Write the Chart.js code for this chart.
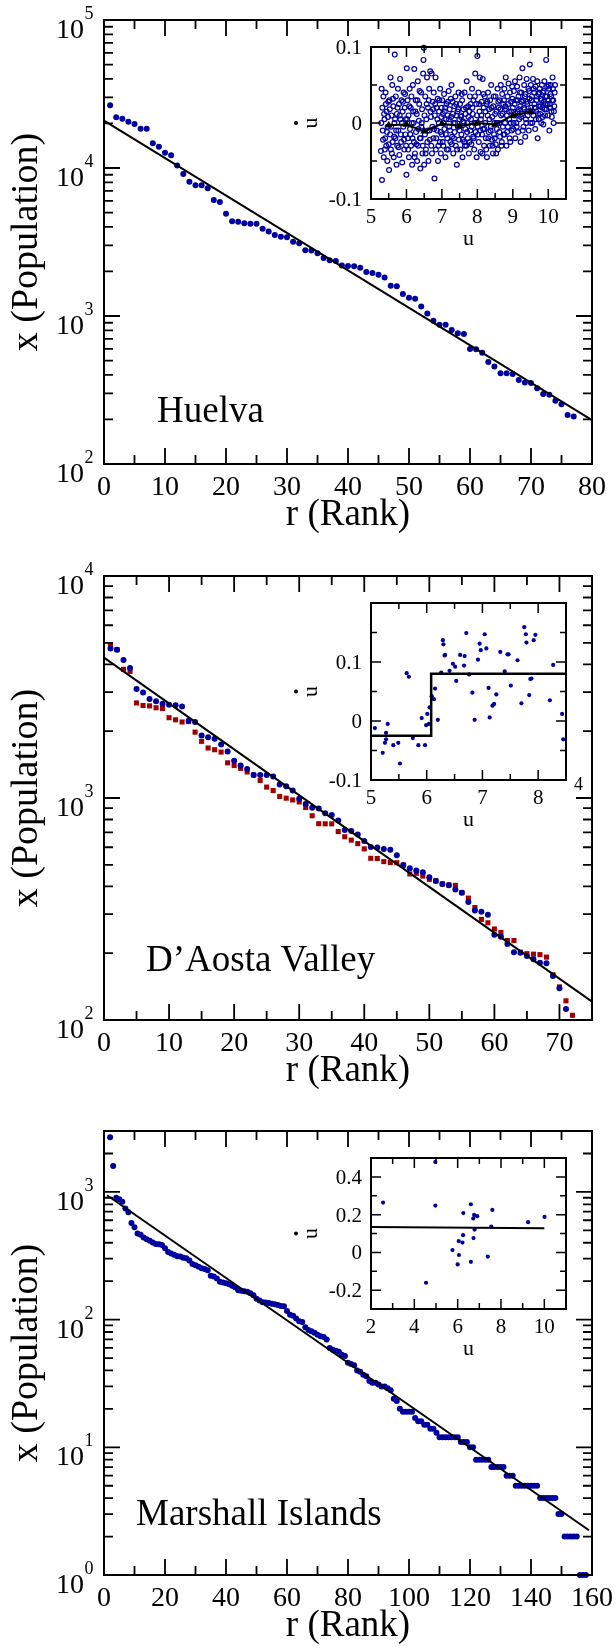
<!DOCTYPE html>
<html>
<head>
<meta charset="utf-8">
<script src="https://cdn.jsdelivr.net/npm/chart.js@4.4.1/dist/chart.umd.min.js"></script>
<style>
html, body { margin: 0; padding: 0; background: #fff; }
body { position: relative; width: 616px; height: 1651px; overflow: hidden; }
canvas { position: absolute; }
#fontprobe { position: absolute; left: -999px; top: 0; font-family: "Liberation Serif"; font-size: 20px; }
</style>
</head>
<body>
<span id="fontprobe">x (Population) 0123456789</span>
<canvas id="main1"></canvas>
<canvas id="inset1"></canvas>
<canvas id="main2"></canvas>
<canvas id="inset2"></canvas>
<canvas id="main3"></canvas>
<canvas id="inset3"></canvas>
<script>
'use strict';

// ---- Huelva (rank 1..77) ----
var huelvaPop = [26500, 22000, 21500, 20500, 19800, 18400, 18400, 14700, 13900, 12700,
    12200, 10400, 9100, 8080, 7640, 7640, 7290, 6080, 5890, 4910,
    4360, 4330, 4230, 4200, 4200, 3890, 3730, 3520, 3430, 3400,
    3180, 3100, 2780, 2770, 2650, 2470, 2380, 2350, 2190, 2180,
    2170, 2120, 1980, 1950, 1900, 1820, 1600, 1590, 1410, 1330,
    1310, 1160, 1040, 930, 873, 873, 803, 764, 755, 598,
    596, 565, 489, 455, 410, 410, 406, 370, 355, 352,
    325, 297, 294, 268, 253, 214, 209];
var huelvaFit = [[0, 20900], [80, 198]];
var huelvaXTicks = [0, 10, 20, 30, 40, 50, 60, 70, 80];
var huelvaYTicks = [100, 1000, 10000, 100000];

// inset 1: growth rate vs u (open circles) and binned mean (triangles)
var huelvaGrowth = [
    [5.28,-0.037],[5.30,0.045],[5.31,-0.075],[5.32,0.02],[5.33,-0.01],[5.35,0.035],[5.36,-0.045],[5.38,0.005],[5.40,-0.02],[5.41,0.04],
    [5.43,-0.03],[5.44,0.015],[5.46,-0.05],[5.47,-0.005],[5.49,0.028],[5.51,-0.062],[5.52,0.03],[5.54,-0.015],[5.55,0.06],[5.56,-0.035],
    [5.58,0.01],[5.60,0.05],[5.61,-0.025],[5.63,0.022],[5.64,-0.045],[5.66,0.0],[5.67,0.09],[5.69,-0.02],[5.70,0.035],[5.72,-0.055],
    [5.73,0.012],[5.74,-0.03],[5.76,0.045],[5.77,-0.01],[5.79,0.025],[5.80,-0.042],[5.82,0.058],[5.83,0.005],[5.85,-0.025],[5.86,0.03],
    [5.88,-0.052],[5.89,0.015],[5.91,-0.005],[5.92,0.04],[5.94,-0.035],[5.95,0.02],[5.97,-0.015],[5.98,0.005],[6.00,-0.068],[6.01,0.072],
    [6.03,0.03],[6.04,-0.02],[6.06,0.01],[6.07,-0.045],[6.09,0.045],[6.10,-0.008],[6.12,0.02],[6.13,-0.03],[6.15,0.0],[6.16,-0.055],
    [6.18,0.05],[6.19,0.015],[6.21,-0.025],[6.22,0.071],[6.24,-0.04],[6.26,0.03],[6.27,-0.012],[6.29,0.012],[6.30,-0.05],[6.32,0.055],
    [6.33,-0.03],[6.35,0.003],[6.36,0.025],[6.38,-0.02],[6.39,-0.06],[6.41,0.04],[6.42,-0.005],[6.44,0.018],[6.45,-0.04],[6.47,0.065],
    [6.48,0.083],[6.49,0.099],[6.50,-0.055],[6.52,-0.015],[6.53,0.035],[6.55,-0.035],[6.56,0.005],[6.58,0.06],[6.59,-0.025],[6.61,0.02],
    [6.62,-0.05],[6.64,0.045],[6.65,-0.01],[6.67,0.068],[6.68,0.015],[6.70,-0.03],[6.71,0.065],[6.73,-0.005],[6.74,0.028],[6.76,-0.02],
    [6.77,0.04],[6.79,-0.073],[6.80,0.01],[6.82,0.06],[6.83,-0.035],[6.85,0.02],[6.86,-0.01],[6.88,0.032],[6.89,-0.05],[6.91,0.0],
    [6.92,0.015],[6.94,-0.025],[6.95,0.045],[6.97,-0.04],[6.98,0.008],[7.00,-0.015],[7.01,0.03],[7.03,0.012],[7.04,-0.03],[7.06,0.038],
    [7.07,-0.008],[7.09,0.02],[7.10,-0.045],[7.12,0.005],[7.13,0.025],[7.15,-0.02],[7.16,0.01],[7.18,-0.035],[7.19,0.042],[7.21,-0.005],
    [7.22,0.018],[7.24,-0.025],[7.26,0.008],[7.27,0.05],[7.29,-0.018],[7.30,0.028],[7.32,-0.04],[7.33,0.0],[7.35,0.022],[7.36,-0.012],
    [7.38,0.035],[7.39,-0.03],[7.41,0.01],[7.42,-0.055],[7.44,0.015],[7.45,-0.005],[7.47,0.04],[7.48,-0.022],[7.49,0.005],[7.51,0.025],
    [7.52,-0.035],[7.54,0.008],[7.55,-0.015],[7.57,0.03],[7.58,-0.045],[7.60,0.002],[7.61,0.018],[7.63,-0.025],[7.64,0.04],[7.66,-0.008],
    [7.67,0.012],[7.69,-0.03],[7.70,0.055],[7.72,0.0],[7.73,-0.02],[7.74,0.022],[7.76,-0.04],[7.77,0.015],[7.79,0.035],[7.80,-0.01],
    [7.82,0.005],[7.83,-0.028],[7.85,0.045],[7.86,0.02],[7.88,-0.018],[7.89,0.03],[7.91,-0.035],[7.92,0.0],[7.94,0.065],[7.95,-0.012],
    [7.97,0.025],[7.98,-0.045],[7.99,0.01],[8.00,0.088],[8.01,-0.005],[8.03,0.04],[8.04,-0.025],[8.06,0.015],[8.07,0.06],[8.09,-0.038],
    [8.10,0.005],[8.12,0.028],[8.13,-0.015],[8.15,0.058],[8.16,-0.008],[8.18,0.02],[8.19,-0.03],[8.21,0.035],[8.22,0.0],[8.24,-0.02],
    [8.26,0.025],[8.27,-0.045],[8.29,0.01],[8.30,0.04],[8.32,-0.012],[8.33,0.018],[8.35,-0.03],[8.36,0.03],[8.38,-0.005],[8.39,0.05],
    [8.41,-0.022],[8.42,0.008],[8.44,-0.04],[8.45,0.022],[8.47,-0.015],[8.48,0.0],[8.51,0.035],[8.52,-0.028],[8.54,0.015],[8.55,-0.008],
    [8.57,0.045],[8.58,-0.035],[8.60,0.02],[8.61,0.0],[8.63,0.03],[8.64,-0.018],[8.66,0.05],[8.67,0.01],[8.69,-0.025],[8.70,0.038],
    [8.72,-0.005],[8.73,0.025],[8.76,0.045],[8.77,-0.015],[8.79,0.022],[8.80,0.06],[8.82,-0.03],[8.83,0.01],[8.85,0.035],[8.86,-0.005],
    [8.88,0.052],[8.89,0.015],[8.91,-0.02],[8.92,0.04],[8.94,0.0],[8.95,0.028],[8.97,-0.01],[8.98,0.048],[9.00,0.02],[9.01,-0.008],
    [9.03,0.042],[9.04,0.01],[9.06,0.055],[9.07,-0.02],[9.09,0.03],[9.10,0.0],[9.12,0.048],[9.13,0.015],[9.15,-0.012],[9.16,0.035],
    [9.18,0.005],[9.19,0.06],[9.21,0.022],[9.22,-0.025],[9.24,0.04],[9.26,0.012],[9.27,0.072],[9.29,0.03],[9.30,-0.005],[9.32,0.05],
    [9.33,0.018],[9.35,-0.018],[9.36,0.038],[9.38,0.0],[9.39,0.058],[9.41,0.025],[9.42,0.01],[9.44,0.045],[9.45,-0.01],[9.47,0.032],
    [9.48,0.077],[9.49,0.015],[9.51,0.05],[9.52,0.02],[9.54,0.035],[9.55,0.0],[9.57,0.058],[9.58,0.01],[9.60,0.04],[9.61,0.025],
    [9.63,-0.008],[9.64,0.048],[9.66,0.015],[9.67,0.03],[9.69,0.055],[9.70,-0.02],[9.72,0.038],[9.73,0.005],[9.74,0.022],[9.76,0.045],
    [9.77,0.012],[9.79,0.032],[9.80,0.0],[9.82,0.05],[9.83,0.02],[9.85,0.04],[9.86,-0.002],[9.88,0.028],[9.89,0.055],[9.91,0.01],
    [9.92,0.035],[9.94,0.083],[9.95,0.018],[9.97,0.048],[9.98,0.025],[10.00,0.03],[10.02,0.045],[10.03,-0.01],[10.05,0.02],[10.07,0.05],
    [10.08,0.035],[10.10,0.008],[10.12,0.06],[10.14,0.03],[10.16,0.015],[10.18,0.04],
    [5.29,0.0],[5.34,-0.022],[5.37,0.012],[5.39,-0.035],[5.42,0.025],[5.45,-0.012],[5.48,0.008],[5.50,-0.028],[5.53,0.018],[5.57,-0.005],
    [5.59,-0.04],[5.62,0.032],[5.65,-0.018],[5.68,0.005],[5.71,-0.01],[5.75,0.02],[5.78,-0.032],[5.81,0.01],[5.84,-0.015],[5.87,0.0],
    [5.90,0.028],[5.93,-0.022],[5.96,0.038],[5.99,-0.03],[6.02,0.005],[6.05,-0.035],[6.08,0.022],[6.11,-0.015],[6.14,0.035],[6.17,-0.02],
    [6.20,0.0],[6.23,-0.045],[6.25,0.015],[6.28,-0.028],[6.31,0.03],[6.34,-0.008],[6.37,0.042],[6.40,-0.02],[6.43,0.0],[6.46,-0.03],
    [6.51,0.01],[6.54,-0.04],[6.57,0.025],[6.60,-0.01],[6.63,0.03],[6.66,-0.022],[6.69,0.008],[6.72,-0.04],[6.75,0.018],[6.78,-0.008],
    [6.81,0.025],[6.84,-0.02],[6.87,0.005],[6.90,-0.03],[6.93,0.03],[6.96,-0.012],[6.99,0.02],[7.02,-0.025],[7.05,0.0],[7.08,0.015],
    [7.11,-0.015],[7.14,-0.035],[7.17,0.028],[7.20,0.005],[7.23,-0.01],[7.25,0.032],[7.28,-0.028],[7.31,0.012],[7.34,-0.02],[7.37,0.0],
    [7.40,0.025],[7.43,-0.035],[7.46,0.018],[7.50,-0.01],[7.53,0.01],[7.56,0.038],[7.59,-0.022],[7.62,0.0],[7.65,-0.03],[7.68,0.02],
    [7.71,-0.012],[7.75,0.008],[7.78,-0.025],[7.81,0.025],[7.84,-0.005],[7.87,0.012],[7.90,-0.02],[7.93,0.035],[7.96,0.0],[8.02,-0.015],
    [8.05,0.025],[8.08,-0.01],[8.11,0.01],[8.14,-0.04],[8.17,0.038],[8.20,-0.008],[8.23,0.015],[8.25,-0.035],[8.28,0.028],[8.31,-0.02],
    [8.34,0.005],[8.37,-0.01],[8.40,0.02],[8.43,-0.03],[8.46,0.035],[8.49,-0.02],[8.50,0.012],[8.53,-0.04],[8.56,0.0],[8.59,0.028],
    [8.62,-0.012],[8.65,0.018],[8.68,-0.03],[8.71,0.012],[8.74,-0.015],[8.75,0.03],[8.78,0.0],[8.81,0.018],[8.84,-0.012],[8.87,0.025],
    [8.90,0.005],[8.93,-0.025],[8.96,0.015],[8.99,0.032],[9.02,0.0],[9.05,0.025],[9.08,0.012],[9.11,-0.005],[9.14,0.03],[9.17,0.018],
    [9.20,0.04],[9.23,0.008],[9.25,0.028],[9.28,-0.01],[9.31,0.02],[9.34,0.035],[9.37,0.005],[9.40,0.028],[9.43,0.015],[9.46,0.042],
    [9.50,0.0],[9.53,0.03],[9.56,0.015],[9.59,0.045],[9.62,0.02],[9.65,0.005],[9.68,0.035],[9.71,0.012],[9.75,0.04],[9.78,0.022],
    [9.81,0.03],[9.84,0.008],[9.87,0.042],[9.90,0.018],[9.93,0.025],[9.96,0.035],[9.99,0.01],[10.01,0.05],[10.04,0.025],[10.06,0.038],
    [10.09,0.015],[10.11,0.03],[10.13,0.045],[10.15,0.0],[10.17,0.022],[10.19,0.05]
];
var huelvaMeanU = [5.5, 6.0, 6.5, 7.0, 7.5, 8.0, 8.5, 9.0, 9.5];
var huelvaMeanV = [-0.003, -0.002, -0.011, -0.001, -0.004, 0.0, -0.002, 0.010, 0.015];

// ---- D'Aosta Valley ----
var aostaBlue = [4710, 4650, 4180, 3850, 3100, 2990, 2790, 2730, 2660, 2630,
    2620, 2580, 2230, 2200, 1910, 1880, 1850, 1740, 1620, 1470,
    1400, 1350, 1270, 1270, 1270, 1250, 1150, 1130, 1080, 991,
    940, 903, 897, 853, 838, 791, 718, 711, 684, 641,
    601, 599, 589, 584, 552, 499, 482, 471, 463, 439,
    423, 410, 405, 387, 374, 340, 311, 307, 298, 242,
    237, 220, 202, 201, 194, 188, 181, 180, 158, 139,
    112];
var aostaRed = [4900, 4660, 3800, 3720, 2680, 2610, 2600, 2550, 2530, 2300,
    2250, 2200, 2210, 1980, 1800, 1680, 1650, 1610, 1440, 1400,
    1360, 1310, 1270, 1200, 1120, 1080, 1016, 998, 980, 960,
    906, 832, 766, 765, 765, 706, 669, 646, 623, 590,
    535, 534, 517, 512, 511, 498, 455, 458, 445, 430,
    424, 410, 406, 404, 375, 354, 321, 284, 274, 257,
    248, 228, 228, 202, 199, 198, 197, 192, 160, 141,
    122, 105];
var aostaFit = [[0, 4290], [75, 121]];
var aostaXTicks = [0, 10, 20, 30, 40, 50, 60, 70];
var aostaYTicks = [100, 1000, 10000];

var aostaGrowth = [
    [5.07,-0.012],[5.21,-0.054],[5.25,-0.037],[5.27,-0.031],[5.27,-0.020],[5.30,-0.005],[5.40,-0.041],[5.49,-0.037],[5.52,-0.072],[5.64,0.081],
    [5.68,0.075],[5.75,-0.029],[5.85,-0.041],[5.91,0.005],[5.97,-0.041],[5.99,-0.007],[6.01,0.012],[6.04,-0.005],[6.05,0.023],[6.09,0.042],
    [6.13,0.037],[6.15,0.055],[6.20,0.002],[6.26,0.082],[6.29,0.137],[6.30,0.130],[6.32,0.111],[6.33,0.112],[6.41,0.085],[6.47,0.097],
    [6.51,0.092],[6.53,0.068],[6.60,0.112],[6.67,0.094],[6.68,0.110],[6.71,0.149],[6.76,0.079],[6.82,0.048],[6.86,0.002],[6.92,0.104],
    [6.95,0.131],[6.97,0.120],[7.04,0.147],[7.07,0.123],[7.11,0.056],[7.13,0.006],[7.18,0.026],[7.21,0.029],[7.25,0.045],[7.32,0.117],
    [7.40,0.084],[7.45,0.113],[7.47,0.113],[7.51,0.060],[7.63,0.103],[7.70,0.030],[7.75,0.159],[7.78,0.147],[7.79,0.133],[7.84,0.044],
    [7.86,0.071],[7.88,0.072],[7.92,0.137],[7.95,0.146],[8.21,0.035],[8.27,0.095],[8.43,0.012],[8.45,-0.031]
];
var aostaStep = [[5.0, -0.025], [6.08, 0.08], [8.5, 0.08]];

// ---- Marshall Islands (rank 2..158) ----
var marshallFirstRank = 2;
var marshallPop = [2675, 1593, 900, 877, 838, 740, 692, 572, 529, 473,
    461, 440, 426, 415, 402, 391, 390, 384, 362, 339,
    330, 322, 313, 312, 305, 302, 290, 273, 266, 259,
    252, 249, 244, 221, 218, 210, 198, 195, 193, 189,
    184, 179, 170, 168, 167, 165, 161, 155, 146, 141,
    137, 136, 135, 133, 132, 130, 128, 127, 117, 109,
    107, 102, 97, 96, 87, 83, 81, 79, 76, 74,
    73, 70, 60, 58, 57, 56, 53, 52, 46, 45,
    44, 40, 39, 37, 36, 33, 32, 32, 31, 30,
    30, 29, 28, 24, 23, 20, 19, 19, 19, 19,
    17, 16, 16, 15, 15, 14, 14, 13, 12, 12,
    12, 12, 12, 12, 12, 11, 11, 11, 10, 10,
    8, 8, 8, 8, 8, 7, 7, 7, 7, 7,
    6, 6, 6, 5, 5, 5, 5, 5, 5, 5,
    5, 4, 4, 4, 4, 4, 4, 3, 3, 2,
    2, 2, 2, 2, 1, 1, 1];
var marshallFit = [[1, 942], [159, 2.24]];
var marshallXTicks = [0, 20, 40, 60, 80, 100, 120, 140, 160];
var marshallYTicks = [1, 10, 100, 1000];

var marshallGrowth = [
    [4.97,0.479],[2.56,0.264],[4.97,0.248],[6.61,0.255],[6.26,0.208],[6.76,0.199],[6.90,0.192],[6.72,0.180],[7.60,0.225],[9.25,0.160],
    [10.01,0.188],[7.55,0.137],[6.78,0.121],[6.25,0.091],[6.05,0.060],[6.22,0.052],[6.73,0.076],[5.76,0.012],[6.06,-0.014],[7.39,-0.022],
    [6.00,-0.064],[6.61,-0.050],[4.54,-0.161]
];
var marshallMean = [[2.0, 0.135], [10.0, 0.128]];

var FONT = '"Liberation Serif", "Times New Roman", "DejaVu Serif", serif';
var BLUE = '#0000a0';
var RED = '#a00000';

function pts(arr) {
    return arr.map(function(p) { return {x: p[0], y: p[1]}; });
}
function ranked(arr, first) {
    return arr.map(function(v, i) { return {x: i + first, y: v}; });
}
function steps(from, to, step) {
    var out = [];
    for (var v = from; v <= to + 1e-9; v += step) out.push(Math.round(v * 1000) / 1000);
    return out;
}
function logMinor(min, max) {
    var out = [];
    for (var e = Math.floor(Math.log10(min)); e <= Math.ceil(Math.log10(max)); e++) {
        for (var m = 2; m <= 9; m++) {
            var v = m * Math.pow(10, e);
            if (v > min && v < max * 1.001) out.push(v);
        }
    }
    return out;
}

function framePlugin(f) {
    return {
        id: 'frame',
        afterDatasetsDraw: function(chart) {
            var ctx = chart.ctx, a = chart.chartArea;
            var sx = chart.scales.x, sy = chart.scales.y;
            ctx.save();
            ctx.strokeStyle = '#000';
            ctx.fillStyle = '#000';
            ctx.lineWidth = f.tickW;
            ctx.beginPath();
            function xt(vals, len) {
                vals.forEach(function(v) {
                    var p = sx.getPixelForValue(v);
                    ctx.moveTo(p, a.bottom); ctx.lineTo(p, a.bottom - len);
                    ctx.moveTo(p, a.top); ctx.lineTo(p, a.top + len);
                });
            }
            function yt(vals, len) {
                vals.forEach(function(v) {
                    var p = sy.getPixelForValue(v);
                    ctx.moveTo(a.left, p); ctx.lineTo(a.left + len, p);
                    ctx.moveTo(a.right, p); ctx.lineTo(a.right - len, p);
                });
            }
            xt(f.xMajor, f.major); xt(f.xMinor, f.minor);
            yt(f.yMajor, f.major); yt(f.yMinor, f.minor);
            ctx.stroke();
            ctx.lineWidth = f.frameW;
            ctx.strokeRect(a.left, a.top, a.right - a.left, a.bottom - a.top);

            // x tick labels
            ctx.font = f.tickFont + 'px ' + FONT;
            ctx.textAlign = 'center';
            ctx.textBaseline = 'alphabetic';
            f.xLabels.forEach(function(v) {
                ctx.fillText(String(v), sx.getPixelForValue(v), a.bottom + f.xLabelDy);
            });
            // y tick labels
            f.yLabels.forEach(function(v) {
                var p = sy.getPixelForValue(v);
                if (f.logY) {
                    ctx.font = f.tickFont + 'px ' + FONT;
                    ctx.textAlign = 'right';
                    ctx.fillText('10', a.left - 20, p + 18);
                    ctx.font = f.supFont + 'px ' + FONT;
                    ctx.textAlign = 'left';
                    ctx.fillText(String(Math.round(Math.log10(v))), a.left - 19.5, p - 1);
                } else {
                    ctx.font = f.tickFont + 'px ' + FONT;
                    ctx.textAlign = 'right';
                    ctx.fillText(String(v), a.left - 9, p + 7);
                }
            });

            var cy = (a.top + a.bottom) / 2, cx = (a.left + a.right) / 2;
            // x title
            ctx.font = f.xTitleFont + 'px ' + FONT;
            ctx.textAlign = 'center';
            ctx.fillText(f.xTitle, cx, a.bottom + f.xTitleDy);
            // y title (rotated)
            ctx.save();
            ctx.translate(a.left - f.yTitleDx, cy);
            ctx.rotate(-Math.PI / 2);
            ctx.font = f.yTitleFont + 'px ' + FONT;
            ctx.textAlign = 'center';
            ctx.fillText(f.yTitle, 0, 0);
            ctx.restore();
            if (f.dot) {
                ctx.beginPath();
                ctx.arc(a.left - f.dot, cy, 2, 0, Math.PI * 2);
                ctx.fill();
            }
            if (f.note) {
                ctx.font = f.note.size + 'px ' + FONT;
                ctx.textAlign = 'left';
                ctx.fillText(f.note.text, a.left + f.note.dx, a.bottom - f.note.dy);
            }
            if (f.extra) {
                ctx.font = f.extra.size + 'px ' + FONT;
                ctx.textAlign = 'left';
                ctx.fillText(f.extra.text, a.right + f.extra.dx, a.bottom + f.extra.dy);
            }
            ctx.restore();
        }
    };
}

function panel(id, canvasBox, area, xr, yr, datasets, f) {
    var cv = document.getElementById(id);
    cv.width = canvasBox[2];
    cv.height = canvasBox[3];
    cv.style.left = canvasBox[0] + 'px';
    cv.style.top = canvasBox[1] + 'px';
    cv.style.width = canvasBox[2] + 'px';
    cv.style.height = canvasBox[3] + 'px';
    return new Chart(cv.getContext('2d'), {
        type: 'scatter',
        data: {datasets: datasets},
        options: {
            responsive: false,
            animation: false,
            devicePixelRatio: 1,
            layout: {padding: {
                left: area[0] - canvasBox[0],
                top: area[1] - canvasBox[1],
                right: canvasBox[0] + canvasBox[2] - area[2],
                bottom: canvasBox[1] + canvasBox[3] - area[3]
            }},
            plugins: {legend: {display: false}, tooltip: {enabled: false}},
            scales: {
                x: {type: 'linear', display: false, bounds: 'data', min: xr[0], max: xr[1]},
                y: {type: yr[2] ? 'logarithmic' : 'linear', display: false, bounds: 'data', min: yr[0], max: yr[1]}
            }
        },
        plugins: [framePlugin(f)]
    });
}

function fitLine(arr, w) {
    return {data: pts(arr), showLine: true, borderColor: '#000', borderWidth: w || 2,
        pointRadius: 0, clip: false};
}
function dots(data, color, r, style) {
    return {data: data, backgroundColor: color, borderWidth: 0, pointRadius: r,
        pointHoverRadius: r, pointStyle: style || 'circle', clip: false};
}

function mainFrame(xLabels, xMinor, yLabels, ymin, ymax, note) {
    return {
        major: 16, minor: 9, tickW: 1.8, frameW: 2,
        xMajor: xLabels, xMinor: xMinor, yMajor: yLabels, yMinor: logMinor(ymin, ymax),
        xLabels: xLabels, yLabels: yLabels, logY: true,
        tickFont: 28, supFont: 18, xLabelDy: 31,
        xTitle: 'r (Rank)', xTitleFont: 37, xTitleDy: 61,
        yTitle: 'x (Population)', yTitleFont: 38, yTitleDx: 67,
        note: note
    };
}
function insetFrame(xLabels, xMinor, yMajor, yMinor, yLabels, extra) {
    return {
        major: 10, minor: 6, tickW: 1.5, frameW: 2,
        xMajor: xLabels, xMinor: xMinor, yMajor: yMajor, yMinor: yMinor,
        xLabels: xLabels, yLabels: yLabels, logY: false,
        tickFont: 21, xLabelDy: 24,
        xTitle: 'u', xTitleFont: 22, xTitleDy: 46,
        yTitle: 'u', yTitleFont: 22, yTitleDx: 54, dot: 75,
        extra: extra
    };
}

function drawAll() {
    // Panel 1: Huelva
    panel('main1', [0, 0, 616, 540], [104, 20, 592, 464], [0, 80], [100, 100000, true], [
        fitLine(huelvaFit),
        dots(ranked(huelvaPop, 1), BLUE, 3)
    ], mainFrame(huelvaXTicks, steps(5, 75, 10), huelvaYTicks, 100, 100000,
        {text: 'Huelva', size: 37, dx: 53, dy: 42}));

    panel('inset1', [280, 27, 336, 232], [371, 47, 566, 199], [5, 10.5], [-0.1, 0.1, false], [
        {data: huelvaMeanU.map(function(u, i) { return {x: u, y: huelvaMeanV[i]}; }),
            showLine: true, borderColor: '#000', borderWidth: 2, backgroundColor: '#000',
            pointStyle: 'triangle', pointRadius: 4.5, pointBorderWidth: 0, clip: false},
        {data: pts(huelvaGrowth), backgroundColor: 'rgba(0,0,0,0)', borderColor: BLUE,
            borderWidth: 1.2, pointRadius: 2.4, pointHoverRadius: 2.4, clip: false}
    ], insetFrame(steps(5, 10, 1), steps(5.5, 9.5, 1), [-0.1, 0, 0.1], [-0.05, 0.05], [-0.1, 0, 0.1]));

    // Panel 2: D'Aosta Valley
    panel('main2', [0, 556, 616, 540], [104, 576, 592, 1020], [0, 75], [100, 10000, true], [
        fitLine(aostaFit),
        dots(ranked(aostaBlue, 1), BLUE, 3),
        dots(ranked(aostaRed, 1), RED, 3.6, 'rect')
    ], mainFrame(aostaXTicks, steps(5, 75, 10), aostaYTicks, 100, 10000,
        {text: 'D\u2019Aosta Valley', size: 37, dx: 42, dy: 49}));

    panel('inset2', [280, 583, 336, 257], [371, 603, 566, 780], [5, 8.5], [-0.1, 0.2, false], [
        {data: pts(aostaStep), showLine: true, stepped: 'before', borderColor: '#000', borderWidth: 2.5,
            pointRadius: 0, clip: false},
        dots(pts(aostaGrowth), BLUE, 2.1)
    ], insetFrame(steps(5, 8, 1), steps(5.5, 8.5, 1), [-0.1, 0, 0.1, 0.2], [-0.05, 0.05, 0.15], [-0.1, 0, 0.1],
        {text: '4', size: 18, dx: 8, dy: 10}));

    // Panel 3: Marshall Islands
    panel('main3', [0, 1111, 616, 540], [104, 1131, 592, 1575], [0, 160], [1, 3000, true], [
        fitLine(marshallFit),
        dots(ranked(marshallPop, marshallFirstRank), BLUE, 3)
    ], mainFrame(marshallXTicks, steps(10, 150, 20), marshallYTicks, 1, 3000,
        {text: 'Marshall Islands', size: 37, dx: 32, dy: 50}));

    panel('inset3', [280, 1138, 336, 231], [371, 1158, 566, 1309], [2, 11], [-0.3, 0.5, false], [
        fitLine(marshallMean),
        dots(pts(marshallGrowth), BLUE, 2.1)
    ], insetFrame(steps(2, 10, 2), steps(3, 9, 2), [-0.2, 0, 0.2, 0.4], [-0.1, 0.1, 0.3], [-0.2, 0, 0.2, 0.4]));
}

var done = false;
function start() { if (!done) { done = true; drawAll(); } }
if (document.fonts && document.fonts.load) {
    document.fonts.load('28px "Liberation Serif"').then(start, start);
    setTimeout(start, 1500);
} else {
    start();
}
</script>
</body>
</html>
